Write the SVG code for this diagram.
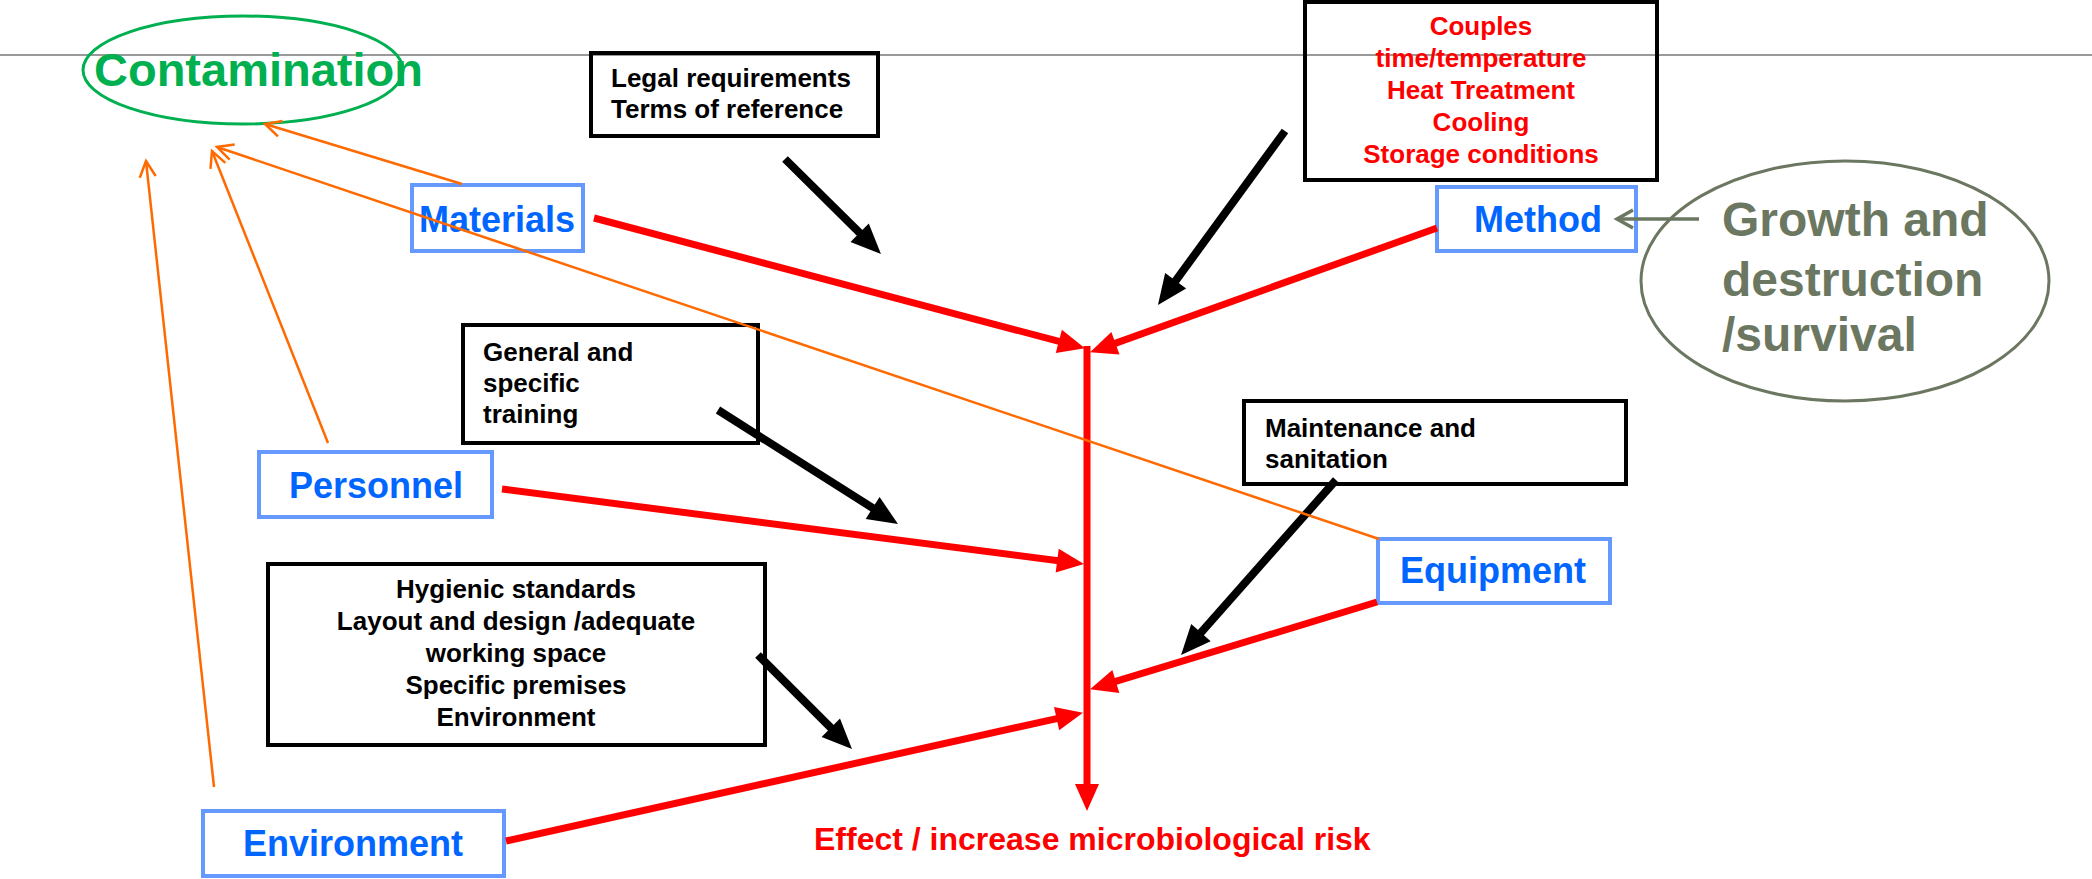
<svg xmlns="http://www.w3.org/2000/svg" width="2092" height="879" viewBox="0 0 2092 879">
<style>
.t{font-family:"Liberation Sans",Arial,sans-serif;font-weight:bold}
.blk{fill:#000;font-size:26px}
.red{fill:#ff0000;font-size:26px}
.lbl{fill:#0066ff;font-size:36px}
.bbox{fill:none;stroke:#6699ff;stroke-width:4}
.kbox{fill:none;stroke:#000;stroke-width:4}
.rl{stroke:#ff0000;stroke-width:7;fill:none;marker-end:url(#ra)}
.kl{stroke:#000;stroke-width:8;fill:none;marker-end:url(#ka)}
.ol{stroke:#ff6a00;stroke-width:2.5;fill:none;marker-end:url(#oa)}
</style>
<defs>
<marker id="ra" markerUnits="userSpaceOnUse" markerWidth="28" markerHeight="24" refX="13" refY="12" orient="auto" overflow="visible"><path d="M0,0 L27,12 L0,24 z" fill="#ff0000"/></marker>
<marker id="ka" markerUnits="userSpaceOnUse" markerWidth="31" markerHeight="26" refX="15" refY="13" orient="auto" overflow="visible"><path d="M0,0 L30,13 L0,26 z" fill="#000"/></marker>
<marker id="oa" markerUnits="userSpaceOnUse" markerWidth="20" markerHeight="20" refX="18" refY="10" orient="auto" overflow="visible"><path d="M2,2 L18,10 L2,18" fill="none" stroke="#ff6a00" stroke-width="2.5"/></marker>
<marker id="ga" markerUnits="userSpaceOnUse" markerWidth="20" markerHeight="22" refX="18" refY="11" orient="auto" overflow="visible"><path d="M2,2 L18,11 L2,20" fill="none" stroke="#6b7760" stroke-width="3.5"/></marker>
</defs>
<line x1="0" y1="55" x2="2092" y2="55" stroke="#999" stroke-width="2"/>
<g id="contamination">
<ellipse cx="243" cy="70" rx="160" ry="54" fill="none" stroke="#00b050" stroke-width="3"/>
<text class="t" x="94" y="86" font-size="47" fill="#00b050">Contamination</text>
</g>
<g id="growth">
<ellipse cx="1845" cy="281" rx="204" ry="120" fill="none" stroke="#6b7760" stroke-width="3"/>
<text class="t" font-size="48" fill="#6b7760"><tspan x="1722" y="236">Growth and</tspan><tspan x="1722" y="296">destruction</tspan><tspan x="1722" y="351">/survival</tspan></text>
</g>
<g id="legal">
<rect class="kbox" x="591" y="53" width="287" height="83"/>
<text class="t blk"><tspan x="611" y="87">Legal requirements</tspan><tspan x="611" y="118">Terms of reference</tspan></text>
</g>
<g id="couples">
<rect class="kbox" x="1305" y="2" width="352" height="178"/>
<text class="t red" text-anchor="middle"><tspan x="1481" y="35">Couples</tspan><tspan x="1481" y="67">time/temperature</tspan><tspan x="1481" y="99">Heat Treatment</tspan><tspan x="1481" y="131">Cooling</tspan><tspan x="1481" y="163">Storage conditions</tspan></text>
</g>
<g id="general">
<rect class="kbox" x="463" y="325" width="295" height="118"/>
<text class="t blk"><tspan x="483" y="361">General and</tspan><tspan x="483" y="392">specific</tspan><tspan x="483" y="423">training</tspan></text>
</g>
<g id="maintenance">
<rect class="kbox" x="1244" y="401" width="382" height="83"/>
<text class="t blk"><tspan x="1265" y="437">Maintenance and</tspan><tspan x="1265" y="468">sanitation</tspan></text>
</g>
<g id="hygienic">
<rect class="kbox" x="268" y="564" width="497" height="181"/>
<text class="t blk" text-anchor="middle"><tspan x="516" y="598">Hygienic standards</tspan><tspan x="516" y="630">Layout and design /adequate</tspan><tspan x="516" y="662">working space</tspan><tspan x="516" y="694">Specific premises</tspan><tspan x="516" y="726">Environment</tspan></text>
</g>
<g id="materials">
<rect class="bbox" x="412" y="185" width="171" height="66"/>
<text class="t lbl" x="497" y="232" text-anchor="middle">Materials</text>
</g>
<g id="method">
<rect class="bbox" x="1437" y="187" width="199" height="64"/>
<text class="t lbl" x="1538" y="232" text-anchor="middle">Method</text>
</g>
<g id="personnel">
<rect class="bbox" x="259" y="452" width="233" height="65"/>
<text class="t lbl" x="376" y="498" text-anchor="middle">Personnel</text>
</g>
<g id="equipment">
<rect class="bbox" x="1378" y="539" width="232" height="64"/>
<text class="t lbl" x="1493" y="583" text-anchor="middle">Equipment</text>
</g>
<g id="environment">
<rect class="bbox" x="203" y="811" width="301" height="65"/>
<text class="t lbl" x="353" y="856" text-anchor="middle">Environment</text>
</g>
<g id="effect">
<text class="t" x="814" y="850" font-size="32" fill="#ff0000">Effect / increase microbiological risk</text>
</g>
<g id="connectors">
<line class="rl" x1="1087" y1="346" x2="1087" y2="797"/>
<line class="rl" x1="594" y1="218" x2="1071.4" y2="344.7"/>
<line class="rl" x1="1437" y1="228" x2="1103.2" y2="347.6"/>
<line class="rl" x1="502" y1="489" x2="1070.1" y2="562.3"/>
<line class="rl" x1="1377" y1="602" x2="1103.4" y2="685.2"/>
<line class="rl" x1="506" y1="841" x2="1069.3" y2="715.8"/>
<line class="kl" x1="785" y1="159" x2="870.3" y2="243.4"/>
<line class="kl" x1="1285" y1="131" x2="1166.8" y2="292.9"/>
<line class="kl" x1="718" y1="410" x2="885.3" y2="516"/>
<line class="kl" x1="758" y1="655" x2="841.4" y2="738.4"/>
<line class="kl" x1="1336" y1="480" x2="1191" y2="643.8"/>
<line class="ol" x1="462" y1="184" x2="265" y2="124"/>
<line class="ol" x1="1379" y1="539" x2="217" y2="147"/>
<line class="ol" x1="328" y1="443" x2="212" y2="151"/>
<line class="ol" x1="214" y1="787" x2="146" y2="161"/>
<line x1="1699" y1="219" x2="1617" y2="219" stroke="#6b7760" stroke-width="3.5" marker-end="url(#ga)"/>
</g>
</svg>
